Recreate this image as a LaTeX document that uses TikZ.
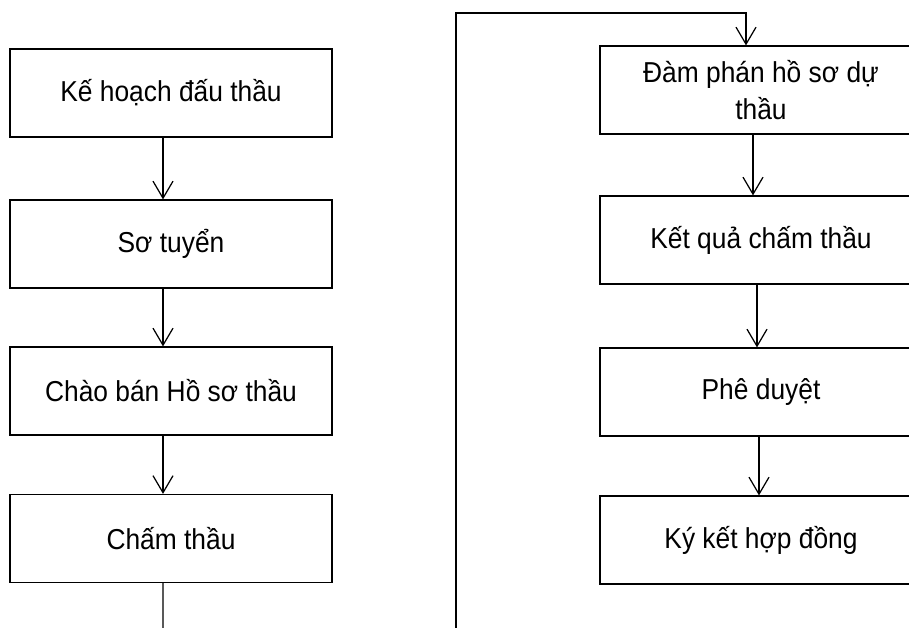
\documentclass[tikz,border=0pt]{standalone}
\usepackage{fontspec}
\setmainfont[FakeStretch=0.915]{Liberation Sans}
\usetikzlibrary{arrows.meta}
\tikzset{
  buoc/.style={draw, line width=0.7pt, minimum width=6.44cm, minimum height=1.76cm,
    align=center, font=\fontsize{16.4}{21}\selectfont},
  mui/.style={-{Straight Barb[length=0.34cm,width=0.4cm]}, line width=0.7pt},
  duong/.style={line width=0.7pt}
}
\begin{document}
\begin{tikzpicture}[x=0.02cm,y=-0.02cm]
\useasboundingbox (0,0) rectangle (909,628);
\clip (0,0) rectangle (909,628);
% left column
\node[buoc] (kh) at(171,93) {Kế hoạch đấu thầu};
\node[buoc] (st) at(171,244) {Sơ tuyển};
\node[buoc] (cb) at(171,391) {Chào bán Hồ sơ thầu};
\node[buoc] (ct) at(171,538.5) {Chấm thầu};
\draw[mui] ([xshift=-0.16cm]kh.south) -- ([xshift=-0.16cm]st.north);
\draw[mui] ([xshift=-0.16cm]st.south) -- ([xshift=-0.16cm]cb.north);
\draw[mui] ([xshift=-0.16cm]cb.south) -- ([xshift=-0.16cm]ct.north);
\coordinate (xuong) at(163,640);
\draw[duong] ([xshift=-0.16cm]ct.south) -- (xuong);
% right column
\node[buoc] (dp) at(761,90) {Đàm phán hồ sơ dự\\thầu};
\node[buoc] (kq) at(761,240) {Kết quả chấm thầu};
\node[buoc] (pd) at(761,392) {Phê duyệt};
\node[buoc] (kk) at(761,540) {Ký kết hợp đồng};
\coordinate (len) at(456,640);
\coordinate (goc) at(456,13);
\draw[mui] (len) -- (goc) -| ([xshift=-0.3cm]dp.north);
\draw[mui] ([xshift=-0.16cm]dp.south) -- ([xshift=-0.16cm]kq.north);
\draw[mui] ([xshift=-0.08cm]kq.south) -- ([xshift=-0.08cm]pd.north);
\draw[mui] ([xshift=-0.04cm]pd.south) -- ([xshift=-0.04cm]kk.north);
\end{tikzpicture}
\end{document}
